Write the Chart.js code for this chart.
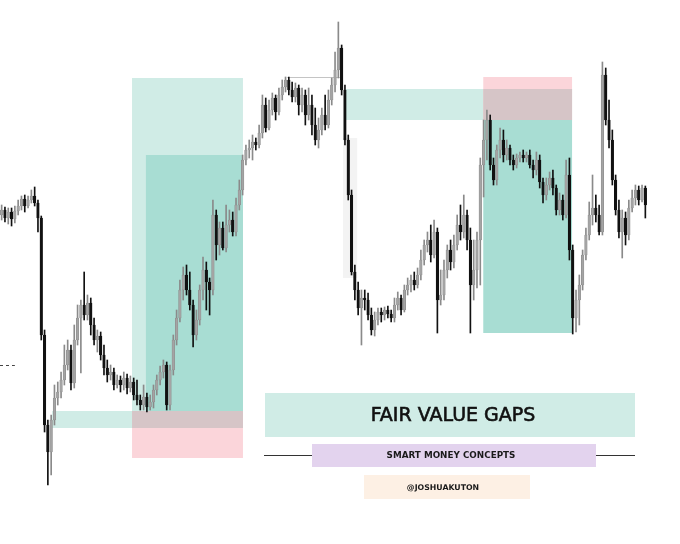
<!DOCTYPE html>
<html>
<head>
<meta charset="utf-8">
<script src="https://cdn.jsdelivr.net/npm/chart.js@4.4.1/dist/chart.umd.min.js"></script>
<style>
  html, body { margin: 0; padding: 0; background: #ffffff; }
  #wrap { width: 680px; height: 544px; position: relative; }
</style>
</head>
<body>
<div id="wrap"><canvas id="c"></canvas></div>
<script>
// ---------- DATA ----------
const openP = [
  385,390,382,388,381,389,394,401,394,400,
  404,397,382,265,175,148,180,202,208,220,
  235,250,217,260,282,295,285,297,275,260,
  264,245,232,225,228,215,220,215,222,212,
  218,205,200,195,203,193,198,210,220,228,
  235,195,230,260,282,310,325,310,295,265,
  280,310,330,318,310,385,355,372,352,375,
  380,368,395,410,440,450,452,458,455,467,
  495,472,490,502,488,505,513,520,510,503,
  512,495,505,485,495,475,460,470,485,475,
  500,515,530,552,510,460,405,328,310,292,
  302,300,285,270,280,288,285,290,286,282,
  295,302,290,310,315,320,315,325,340,355,
  360,345,368,300,305,330,350,338,355,375,
  368,385,360,315,330,360,435,460,480,435,
  420,450,460,445,452,440,435,442,445,442,
  445,435,430,440,418,405,415,422,412,390,
  400,385,425,350,282,300,315,345,365,385,
  392,385,368,525,480,460,420,390,368,382,
  365,392,402,410,400,412
];
const highP = [
  395,393,392,392,394,400,404,405,404,410,
  413,400,384,270,180,185,215,218,228,255,
  260,255,275,295,300,328,305,302,282,270,
  268,255,240,235,232,225,224,228,226,224,
  222,220,205,215,207,205,215,225,234,240,
  238,235,265,290,320,333,335,328,300,290,
  315,343,338,322,400,390,378,378,395,390,
  388,402,420,445,455,460,465,462,475,505,
  502,500,507,505,512,520,523,523,518,517,
  515,512,510,512,505,492,482,492,505,510,
  522,548,578,555,515,465,410,335,318,310,
  310,307,292,288,292,292,293,294,290,302,
  308,305,315,322,325,328,332,350,360,368,
  375,380,372,330,340,355,360,365,385,395,
  405,390,372,360,368,442,480,490,485,442,
  455,472,470,460,455,445,446,448,450,448,
  450,440,448,445,422,422,428,430,415,407,
  405,440,442,355,310,325,350,372,398,425,
  405,395,538,532,500,470,425,400,390,388,
  400,410,415,414,415,414
];
const lowP = [
  380,378,376,374,377,385,390,388,392,397,
  394,368,260,168,115,125,175,195,202,215,
  230,210,212,255,227,280,280,265,255,248,
  240,225,218,220,210,212,208,210,206,208,
  200,195,190,190,188,190,192,205,215,222,
  190,190,225,255,278,300,305,290,253,260,
  275,300,290,285,305,340,345,350,348,368,
  364,364,390,405,435,442,440,450,452,462,
  468,470,485,480,485,500,508,505,498,498,
  485,488,475,480,465,455,452,465,470,472,
  495,508,522,505,455,400,325,300,285,255,
  290,280,265,264,275,278,280,282,278,278,
  290,285,288,305,308,310,312,320,335,348,
  338,342,267,295,300,322,330,332,350,360,
  362,350,267,300,312,315,403,440,430,415,
  415,442,438,440,435,430,432,438,438,438,
  432,422,425,412,397,400,410,405,385,385,
  380,382,340,266,268,275,310,340,360,375,
  378,365,365,475,452,415,385,362,342,355,
  360,388,395,395,398,382
];
const closeP = [
  390,382,388,381,389,394,401,394,400,404,
  397,382,265,175,148,180,202,208,220,235,
  250,217,260,282,295,285,297,275,260,264,
  245,232,225,228,215,220,215,222,212,218,
  205,200,195,203,193,198,210,220,228,235,
  195,230,260,282,310,325,310,295,265,280,
  310,330,318,310,385,355,372,352,375,380,
  368,395,410,440,450,452,458,455,467,495,
  472,490,502,488,505,513,520,510,503,512,
  495,505,485,495,475,460,470,485,475,500,
  515,530,552,510,460,405,328,310,292,302,
  300,285,270,280,288,285,290,286,282,295,
  302,290,310,315,320,315,325,340,355,360,
  345,368,300,305,330,350,338,355,375,368,
  385,360,315,330,360,435,460,480,435,420,
  450,460,445,452,440,435,442,445,442,445,
  435,430,440,418,405,415,422,412,390,400,
  385,425,350,282,300,315,345,365,385,392,
  385,368,525,480,460,420,390,368,382,365,
  392,402,410,400,412,395
];
// bar slots on the time axis (candles + empty space on the right)
const slotLabels = Array.from({length: 206}, (_, i) => String(i));

// zones: candle-index start/end, price top/bottom, kind
const zoneKind   = ['shade', 'range', 'target', 'fvg', 'risk', 'fvg', 'risk', 'target'];
const zoneStart  = [103.4, 39.5, 43.7, 15.3, 39.5, 104.3, 145.9, 145.9];
const zoneEnd    = [107.7, 73.1, 73.1, 73.1, 73.1, 172.8, 172.8, 172.8];
const zoneTop    = [462, 522, 445, 189, 189, 511, 523, 480];
const zoneBottom = [322, 189, 189, 172, 142, 480, 480, 267];

// reference lines: [start index, end index, price]
const levelStart = [86.5, -0.5];
const levelEnd   = [102.5, 4.0];
const levelPrice = [523, 235];
const levelKind  = ['high', 'dash'];

const titleText = 'FAIR VALUE GAPS';
const subtitleText = 'SMART MONEY CONCEPTS';
const creditText = '@JOSHUAKUTON';

// ---------- STYLE ----------
const UP = '#a4a4a4', UP_EDGE = '#8a8a8a', DOWN = '#111111';
const zoneColor = { shade: '#f3f3f3', range: '#d0ece6', target: '#a8ddd3', fvg: '#d0ece6', risk: '#fbd5da' };
const overlapColor = '#d6c5c7';

const isUp = closeP.map((c, i) => c >= openP[i]);
const candleColors = isUp.map(u => u ? UP : DOWN);
const edgeColors = isUp.map(u => u ? UP_EDGE : DOWN);

const zonesPlugin = {
  id: 'zones',
  beforeDatasetsDraw(chart) {
    const {ctx, scales: {x, y}} = chart;
    const px = v => x.getPixelForValue(v);
    const py = v => y.getPixelForValue(v);
    const fill = (a, b, t, bt, col) => {
      const x0 = px(a), x1 = px(b), y0 = py(t), y1 = py(bt);
      ctx.fillStyle = col;
      ctx.fillRect(x0, y0, x1 - x0, y1 - y0);
    };
    ctx.save();
    const order = ['shade', 'range', 'target', 'fvg', 'risk'];
    order.forEach(k => {
      zoneKind.forEach((kind, i) => {
        if (kind === k) fill(zoneStart[i], zoneEnd[i], zoneTop[i], zoneBottom[i], zoneColor[k]);
      });
    });
    zoneKind.forEach((ka, a) => {
      if (ka !== 'fvg') return;
      zoneKind.forEach((kb, b) => {
        if (kb !== 'risk') return;
        const s = Math.max(zoneStart[a], zoneStart[b]), e = Math.min(zoneEnd[a], zoneEnd[b]);
        const t = Math.min(zoneTop[a], zoneTop[b]), bt = Math.max(zoneBottom[a], zoneBottom[b]);
        if (e > s && t > bt) fill(s, e, t, bt, overlapColor);
      });
    });
    levelKind.forEach((k, i) => {
      ctx.beginPath();
      if (k === 'dash') { ctx.setLineDash([3, 3]); ctx.strokeStyle = '#444'; }
      else { ctx.setLineDash([]); ctx.strokeStyle = '#c4c4c4'; }
      ctx.lineWidth = 1;
      const yy = Math.round(py(levelPrice[i])) + 0.5;
      ctx.moveTo(px(levelStart[i]), yy);
      ctx.lineTo(px(levelEnd[i]), yy);
      ctx.stroke();
    });
    ctx.restore();
  },
  afterDraw(chart) {
    const ctx = chart.ctx;
    ctx.save();
    ctx.textAlign = 'center';
    ctx.textBaseline = 'middle';
    // title banner
    ctx.fillStyle = '#d0ece6';
    ctx.fillRect(265, 393, 370, 44);
    ctx.fillStyle = '#111';
    ctx.strokeStyle = '#111';
    ctx.lineWidth = 0.6;
    ctx.font = '19px "DejaVu Sans"';
    ctx.fillText(titleText, 453, 416);
    ctx.strokeText(titleText, 453, 416);
    // rule line
    ctx.strokeStyle = '#333';
    ctx.lineWidth = 1;
    ctx.beginPath();
    ctx.moveTo(264, 455.5);
    ctx.lineTo(635, 455.5);
    ctx.stroke();
    // subtitle
    ctx.fillStyle = '#e3d3ee';
    ctx.fillRect(312, 444, 284, 23);
    ctx.fillStyle = '#1a1a1a';
    ctx.font = 'bold 8.8px "DejaVu Sans"';
    ctx.fillText(subtitleText, 451, 455.5);
    // credit
    ctx.fillStyle = '#fdf0e4';
    ctx.fillRect(364, 475, 166, 24);
    ctx.fillStyle = '#1a1a1a';
    ctx.font = 'bold 7.8px "DejaVu Sans"';
    ctx.fillText(creditText, 443, 487.5);
    ctx.restore();
  }
};

new Chart(document.getElementById('c'), {
  type: 'bar',
  data: {
    labels: slotLabels,
    datasets: [
      {
        label: 'body',
        data: openP.map((o, i) => [o, closeP[i]]),
        backgroundColor: candleColors,
        borderColor: edgeColors,
        borderWidth: 0.6,
        borderSkipped: false,
        barThickness: 2.6,
        grouped: false,
        minBarLength: 1
      },
      {
        label: 'wick',
        data: lowP.map((l, i) => [l, highP[i]]),
        backgroundColor: edgeColors,
        borderWidth: 0,
        barThickness: 1,
        grouped: false
      }
    ]
  },
  options: {
    responsive: true,
    maintainAspectRatio: false,
    animation: false,
    layout: { padding: 0 },
    plugins: { legend: { display: false }, tooltip: { enabled: false } },
    scales: {
      x: { display: false, offset: true, grid: { display: false } },
      y: { display: false, min: 56, max: 600, grid: { display: false } }
    }
  },
  plugins: [zonesPlugin]
});
</script>
</body>
</html>
